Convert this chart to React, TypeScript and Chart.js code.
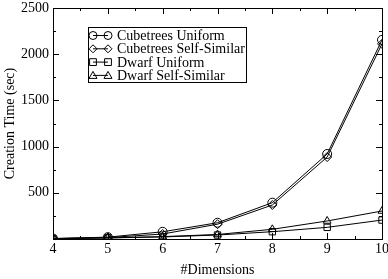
import React, { useEffect, useRef } from "react";
import { Chart, registerables } from "chart.js";

Chart.register(...registerables);

const dimensions = [4, 5, 6, 7, 8, 9, 10];
const cubetreesUniform = [5, 20, 78, 176, 393, 920, 2155];
const cubetreesSelfSimilar = [3, 15, 54, 160, 368, 887, 2112];
const dwarfUniform = [5, 12, 22, 43, 79, 126, 205];
const dwarfSelfSimilar = [5, 12, 26, 49, 105, 195, 303];
const seriesLabels = ["Cubetrees Uniform", "Cubetrees Self-Similar", "Dwarf Uniform", "Dwarf Self-Similar"];
const pointStyles = ["circle", "rectRot", "rect", "triangle"];
const yTicks = [500, 1000, 1500, 2000, 2500];

const FONT = "'Liberation Serif', 'DejaVu Serif', serif";

function drawMarker(ctx: CanvasRenderingContext2D, style: string, x: number, y: number, r: number) {
  ctx.beginPath();
  if (style === "circle") {
    ctx.arc(x, y, r, 0, Math.PI * 2);
  } else if (style === "rectRot") {
    ctx.moveTo(x, y - r);
    ctx.lineTo(x + r, y);
    ctx.lineTo(x, y + r);
    ctx.lineTo(x - r, y);
    ctx.closePath();
  } else if (style === "rect") {
    const s = r * 0.85;
    ctx.rect(x - s, y - s, 2 * s, 2 * s);
  } else {
    ctx.moveTo(x, y - r);
    ctx.lineTo(x + r, y + r * 0.75);
    ctx.lineTo(x - r, y + r * 0.75);
    ctx.closePath();
  }
  ctx.stroke();
}

const framePlugin = {
  id: "frameTicks",
  afterDraw(chart: any) {
    const ctx = chart.ctx as CanvasRenderingContext2D;
    const { left, right, top, bottom } = chart.chartArea;
    const xs = chart.scales.x;
    const ys = chart.scales.y;
    ctx.save();
    ctx.strokeStyle = "#000";
    ctx.lineWidth = 1;
    ctx.strokeRect(Math.round(left) + 0.5, Math.round(top) + 0.5, Math.round(right - left), Math.round(bottom - top));
    ctx.beginPath();
    for (let v = 4; v <= 10; v += 0.5) {
      const len = Number.isInteger(v) ? 6 : 3;
      const px = Math.round(xs.getPixelForValue(v)) + 0.5;
      ctx.moveTo(px, bottom);
      ctx.lineTo(px, bottom - len);
      ctx.moveTo(px, top);
      ctx.lineTo(px, top + len);
    }
    for (let v = 0; v <= 2500; v += 250) {
      const len = v % 500 === 0 ? 6 : 3;
      const py = Math.round(ys.getPixelForValue(v)) + 0.5;
      ctx.moveTo(left, py);
      ctx.lineTo(left + len, py);
      ctx.moveTo(right, py);
      ctx.lineTo(right - len, py);
    }
    ctx.stroke();

    // legend
    const bx = 88, by = 27, bw = 158, bh = 55;
    ctx.fillStyle = "#fff";
    ctx.fillRect(bx, by, bw, bh);
    ctx.strokeRect(bx + 0.5, by + 0.5, bw, bh);
    ctx.font = "14px " + FONT;
    ctx.textBaseline = "middle";
    ctx.textAlign = "left";
    ctx.fillStyle = "#000";
    seriesLabels.forEach((lab, i) => {
      const cy = by + 8.5 + i * 13.3;
      ctx.beginPath();
      ctx.moveTo(93, cy);
      ctx.lineTo(108, cy);
      ctx.stroke();
      drawMarker(ctx, pointStyles[i], 93, cy, 4);
      drawMarker(ctx, pointStyles[i], 108, cy, 4);
      ctx.fillText(lab, 117, cy + 1);
    });
    ctx.restore();
  },
};

export default function App() {
  const ref = useRef<HTMLCanvasElement>(null);
  useEffect(() => {
    const all = [cubetreesUniform, cubetreesSelfSimilar, dwarfUniform, dwarfSelfSimilar];
    const chart = new Chart(ref.current as HTMLCanvasElement, {
      type: "line",
      data: {
        datasets: all.map((arr, i) => ({
          label: seriesLabels[i],
          data: arr.map((v, j) => ({ x: dimensions[j], y: v })),
          borderColor: "#000",
          borderWidth: 1,
          backgroundColor: "rgba(0,0,0,0)",
          pointStyle: pointStyles[i] as any,
          pointRadius: 4.5,
          pointBorderColor: "#000",
          pointBackgroundColor: "rgba(0,0,0,0)",
          pointBorderWidth: 1,
          fill: false,
          tension: 0,
        })),
      },
      options: {
        animation: false,
        responsive: false,
        layout: { padding: { left: 2, right: 6, top: 8, bottom: 0 } },
        plugins: { legend: { display: false }, tooltip: { enabled: false } },
        scales: {
          x: {
            type: "linear",
            min: 4,
            max: 10,
            grid: { display: false, drawTicks: false },
            border: { display: false },
            ticks: {
              stepSize: 1,
              color: "#000",
              font: { family: FONT, size: 14 },
              padding: 2,
              maxRotation: 0,
              callback: (v: any) => String(v),
            },
            title: { display: true, text: "#Dimensions", color: "#000", font: { family: FONT, size: 14 }, padding: { top: 4, bottom: 0 } },
            afterFit: (s: any) => {
              s.height = 40;
              s.paddingLeft = 0;
              s.paddingRight = 0;
            },
          },
          y: {
            type: "linear",
            min: 0,
            max: 2500,
            grid: { display: false, drawTicks: false },
            border: { display: false },
            afterBuildTicks: (s: any) => {
              s.ticks = yTicks.map((v) => ({ value: v }));
            },
            ticks: { color: "#000", font: { family: FONT, size: 14 }, padding: 4, callback: (v: any) => String(v) },
            title: { display: true, text: "Creation Time (sec)", color: "#000", font: { family: FONT, size: 14 }, padding: { top: 0, bottom: 2 } },
            afterFit: (s: any) => {
              s.width = 51;
              s.paddingTop = 0;
              s.paddingBottom = 0;
            },
          },
        },
      },
      plugins: [framePlugin],
    });
    return () => chart.destroy();
  }, []);
  return (
    <div style={{ position: "fixed", left: 0, top: 0, width: 388, height: 279, background: "#fff" }}>
      <canvas ref={ref} width={388} height={279} style={{ display: "block" }} />
    </div>
  );
}
